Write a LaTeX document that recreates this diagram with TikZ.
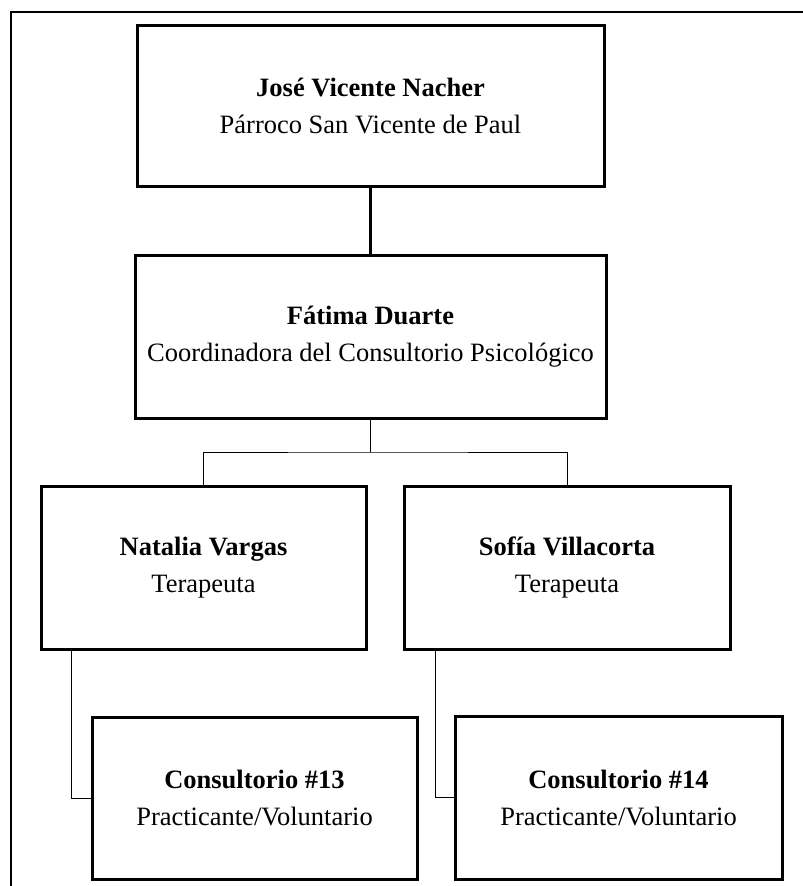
\documentclass[tikz,border=0pt]{standalone}
\usepackage{fontspec}
\setmainfont{Liberation Serif}
\begin{document}
\begin{tikzpicture}[x=1pt,y=-1pt,
  box/.style={draw=black, line width=3pt, align=center, inner sep=0pt,
    font=\fontsize{26.5}{37}\selectfont},
  thickline/.style={line width=2.5pt},
  thinline/.style={line width=1pt},
  frame/.style={line width=2pt}]
\useasboundingbox (0,0) rectangle (803,886);
\draw[frame] (11,886) -- (11,11.5) -- (803,11.5);
\node[box, minimum width=467pt, minimum height=161pt] (a) at (370.5,105.5)
  {\textbf{José Vicente Nacher}\\Párroco San Vicente de Paul};
\node[box, minimum width=471pt, minimum height=163pt] (b) at (370.5,336.5)
  {\textbf{Fátima Duarte}\\Coordinadora del Consultorio Psicológico};
\node[box, minimum width=325pt, minimum height=163pt] (c) at (203.5,567.5)
  {\textbf{Natalia Vargas}\\Terapeuta};
\node[box, minimum width=326pt, minimum height=163pt] (d) at (567,567.5)
  {\textbf{Sofía Villacorta}\\Terapeuta};
\node[box, minimum width=325pt, minimum height=162pt] (e) at (254.5,798)
  {\textbf{Consultorio \#13}\\Practicante/Voluntario};
\node[box, minimum width=327pt, minimum height=163pt] (f) at (618.5,797.5)
  {\textbf{Consultorio \#14}\\Practicante/Voluntario};
\coordinate (bus) at (370.5,452);
\draw[thickline] (a.south) -- (b.north);
\draw[thinline] (b.south) -- (bus);
\draw[thinline] (c.north) |- (bus) -| (d.north);
\draw[thinline] ([xshift=32pt]c.south west) |- (e.west);
\draw[thinline] ([xshift=33pt]d.south west) |- (f.west);
\end{tikzpicture}
\end{document}
